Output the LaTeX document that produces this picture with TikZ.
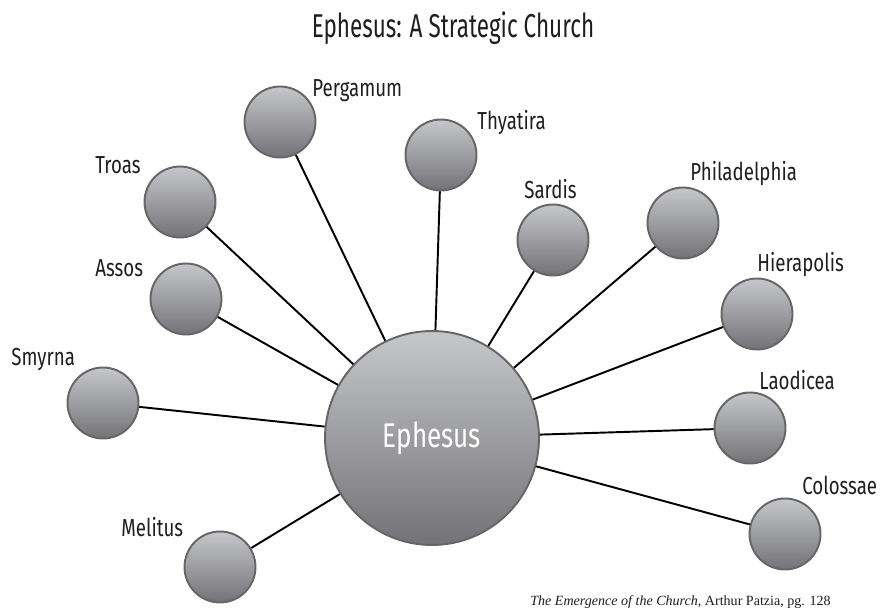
\documentclass[tikz,border=0pt]{standalone}
\usepackage{fontspec}
\usepackage{xcolor}
\usepackage{tikz}
\setmainfont{Liberation Serif}
\newfontfamily\narrowfont[FakeStretch=0.76]{Fira Sans}
\newfontfamily\headfont[FakeStretch=0.68]{Fira Sans}

\definecolor{ballTop}{HTML}{C6C7CB}
\definecolor{ballBottom}{HTML}{737377}
\definecolor{ballRim}{HTML}{666666}
\definecolor{inkDark}{HTML}{1E1E1E}

\begin{document}
\begin{tikzpicture}[x=0.02cm, y=-0.02cm,
        city/.style={circle, draw=ballRim, line width=1.1pt, top color=ballTop, bottom color=ballBottom, minimum size=1.42cm, inner sep=0pt},
        hub/.style={city, minimum size=4.28cm, text=white, font=\narrowfont\fontsize{19.5}{22}\selectfont},
        cityname/.style={anchor=base west, text=inkDark, font=\narrowfont\fontsize{14}{16}\selectfont, inner sep=0pt},
        spoke/.style={line width=1.1pt, black}]
        \useasboundingbox (0, 0) rectangle (884, 614);

        \node[anchor=base, inner sep=0pt, text=inkDark, font=\headfont\fontsize{18.8}{22}\selectfont] (title) at (453, 38) {Ephesus: A Strategic Church};

        \node[city] (pergamum) at (280, 122) {};
        \node[cityname] (pergamumname) at (312, 97) {Pergamum};
        \node[city] (thyatira) at (441, 155) {};
        \node[cityname] (thyatiraname) at (477, 130) {Thyatira};
        \node[city] (troas) at (180, 202) {};
        \node[cityname] (troasname) at (95, 174) {Troas};
        \node[city] (sardis) at (553, 240) {};
        \node[cityname] (sardisname) at (524, 199) {Sardis};
        \node[city] (philadelphia) at (683, 223) {};
        \node[cityname] (philadelphianame) at (690, 181) {Philadelphia};
        \node[city] (assos) at (186, 299) {};
        \node[cityname] (assosname) at (95, 277) {Assos};
        \node[city] (hierapolis) at (757, 314) {};
        \node[cityname] (hierapolisname) at (757, 272) {Hierapolis};
        \node[city] (smyrna) at (103, 403) {};
        \node[cityname] (smyrnaname) at (11, 365) {Smyrna};
        \node[city] (laodicea) at (750, 428) {};
        \node[cityname] (laodiceaname) at (759, 389) {Laodicea};
        \node[city] (colossae) at (785, 534) {};
        \node[cityname] (colossaename) at (802, 494) {Colossae};
        \node[city] (melitus) at (220, 567) {};
        \node[cityname] (melitusname) at (121, 536) {Melitus};

        \node[hub] (ephesus) at (432, 438) {Ephesus};

        \foreach \c in {pergamum, thyatira, troas, sardis, philadelphia, assos, hierapolis, smyrna, laodicea, colossae, melitus}
            \draw[spoke] (\c) -- (ephesus);

        \node[anchor=base east, inner sep=0pt, font=\fontsize{8}{9}\selectfont, text=inkDark] (source) at (831, 605) {\textit{The Emergence of the Church}, Arthur Patzia, pg. 128};
    \end{tikzpicture}
\end{document}
